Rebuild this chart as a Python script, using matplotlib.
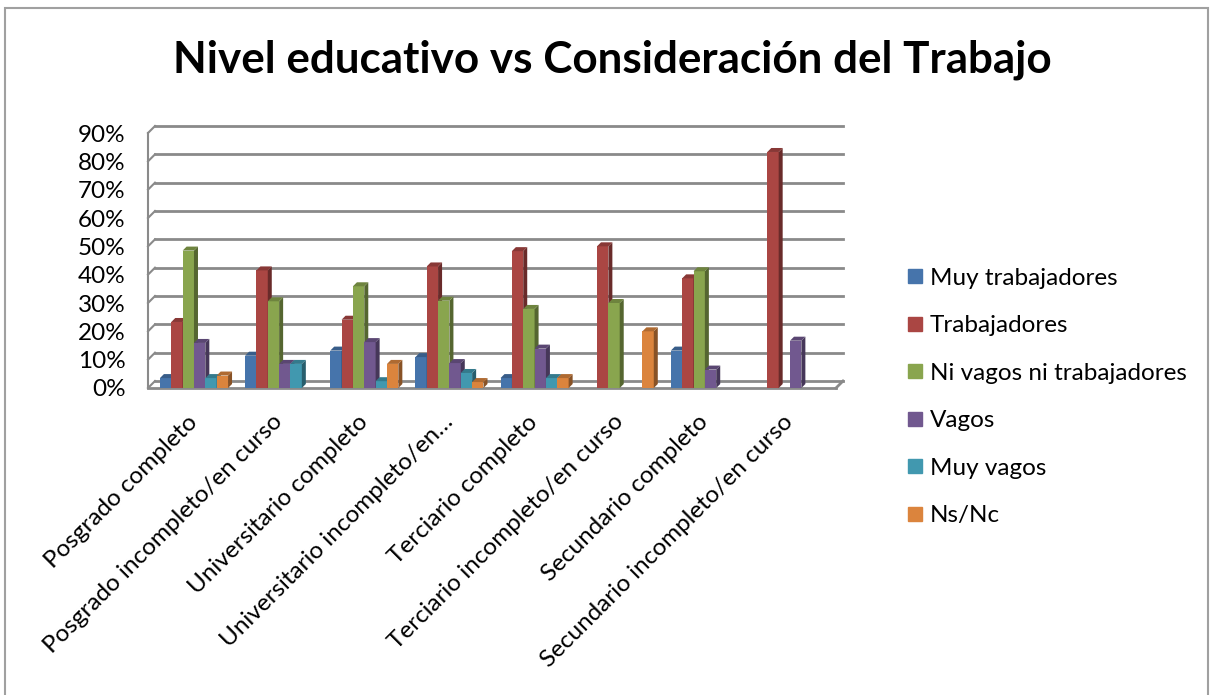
import numpy as np
import matplotlib.pyplot as plt
from matplotlib.patches import Polygon, Rectangle
from matplotlib.lines import Line2D
from matplotlib.ticker import PercentFormatter

plt.rcParams['font.family'] = ['Lato', 'DejaVu Sans']

# datos (fraccion, nan = sin barra)
niveles = ['Posgrado completo', 'Posgrado incompleto/en curso', 'Universitario completo',
           'Universitario incompleto/en…', 'Terciario completo', 'Terciario incompleto/en curso',
           'Secundario completo', 'Secundario incompleto/en curso']
series = ['Muy trabajadores', 'Trabajadores', 'Ni vagos ni trabajadores', 'Vagos', 'Muy vagos', 'Ns/Nc']
nan = np.nan
muy_trabajadores = [0.035, 0.114, 0.132, 0.109, 0.035, nan, 0.132, nan]
trabajadores = [0.233, 0.415, 0.241, 0.429, 0.483, 0.500, 0.387, 0.833]
ni_vagos_ni_trab = [0.485, 0.306, 0.359, 0.308, 0.279, 0.300, 0.412, nan]
vagos = [0.159, 0.085, 0.162, 0.088, 0.139, nan, 0.065, 0.167]
muy_vagos = [0.035, 0.085, 0.024, 0.053, 0.035, nan, nan, nan]
ns_nc = [0.044, nan, 0.085, 0.021, 0.035, 0.200, nan, nan]
valores = [muy_trabajadores, trabajadores, ni_vagos_ni_trab, vagos, muy_vagos, ns_nc]

colores = ['#4674AB', '#AA4643', '#89A54E', '#71588F', '#4198AF', '#DB843D']


def oscurecer(c, f):
    r, g, b = [int(c[i:i + 2], 16) / 255 for i in (1, 3, 5)]
    return (r * f, g * f, b * f)


fig = plt.figure(figsize=(12.16, 6.95), dpi=100)
W, H = 1216, 695
ax = fig.add_axes([148 / W, 1 - 388 / H, 688 / W, 255 / H])
x0, x1 = -0.54, 7.54
ax.set_xlim(x0, x1)
ax.set_ylim(0, 0.9)
for s in ax.spines.values():
    s.set_visible(False)

# pixeles por unidad de datos
p0 = ax.transData.transform((0, 0))
p1 = ax.transData.transform((1, 1))
ppx, ppy = p1[0] - p0[0], p1[1] - p0[1]
wx, wy = 7 / ppx, 7 / ppy      # profundidad de las paredes
bx, by = 4 / ppx, 4 / ppy      # profundidad de las barras

# paredes y cuadricula
gris = '#8a8a8a'
yt = np.arange(0, 0.91, 0.1)
for v in yt:
    ax.plot([x0 + wx, x1 + wx], [v + wy, v + wy], color=gris, lw=2, clip_on=False, zorder=1)
    ax.plot([x0, x0 + wx], [v, v + wy], color=gris, lw=1.5, clip_on=False, zorder=1)
ax.plot([x0, x0], [0, 0.9], color=gris, lw=1.5, clip_on=False, zorder=1)
ax.plot([x0, x1], [0, 0], color=gris, lw=2, clip_on=False, zorder=1)
ax.plot([x1, x1 + wx], [0, wy], color=gris, lw=2, clip_on=False, zorder=1)

# barras pseudo 3D
n = len(series)
w = 0.8 / n
idx = np.arange(len(niveles))
for j in range(n):
    xs = idx - 0.4 + j * w
    vals = np.array(valores[j], dtype=float)
    bars = ax.bar(xs, vals, width=w, align='edge', color=colores[j], zorder=3 + j)
    for b, v in zip(bars, vals):
        if np.isnan(v):
            continue
        xl = b.get_x()
        xr = xl + w
        ax.add_patch(Polygon([(xr, 0), (xr + bx, by), (xr + bx, v + by), (xr, v)], closed=True,
                             color=oscurecer(colores[j], 0.62), zorder=3 + j, lw=0))
        ax.add_patch(Polygon([(xl, v), (xl + bx, v + by), (xr + bx, v + by), (xr, v)], closed=True,
                             color=oscurecer(colores[j], 0.8), zorder=3 + j, lw=0))

ax.set_yticks(yt)
ax.yaxis.set_major_formatter(PercentFormatter(1.0, decimals=0))
ax.set_xticks(idx)
ax.set_xticklabels(niveles, rotation=45, ha='right', va='center', rotation_mode='anchor')
ax.tick_params(axis='both', length=0, labelsize=17.5)
ax.tick_params(axis='y', pad=16)
ax.tick_params(axis='x', pad=22)

# titulo
fig.text(612 / W, 1 - 60 / H, 'Nivel educativo vs Consideración del Trabajo', ha='center', va='center',
         fontsize=31.7, fontweight='bold')

# leyenda
handles = [Line2D([], [], marker='s', ls='none', markersize=10.5, color=c) for c in colores]
fig.legend(handles, series, loc='upper left', bbox_to_anchor=(886 / W, 1 - 246 / H), frameon=False,
           fontsize=17.5, labelspacing=1.09, handlelength=0.6, handletextpad=0.3)

# borde del grafico
fig.patches.append(Rectangle((5 / W, -0.02), 1203 / W, 1 - 8 / H + 0.02, transform=fig.transFigure,
                             fill=False, edgecolor='#a0a0a0', lw=1.5))

fig.savefig('out.png', dpi=100)
